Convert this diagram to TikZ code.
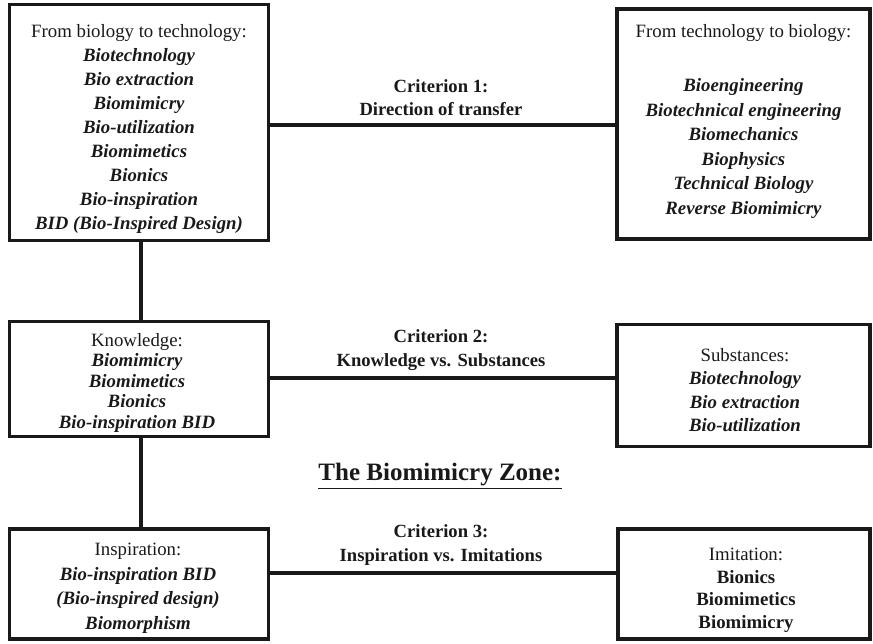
\documentclass[tikz,border=0pt]{standalone}
\usepackage{fontspec}
\setmainfont{Liberation Serif}
\newcommand{\bi}[1]{{\bfseries\itshape #1}}
\begin{document}
\begin{tikzpicture}[x=1pt,y=-1pt,
  box/.style={draw=black!90,line width=3.2pt,rectangle,inner sep=0pt},
  txt/.style={align=center,text=black!90,inner sep=0pt},
  conn/.style={draw=black!90,line width=3.2pt},
  crit/.style={align=center,font=\fontsize{18.6}{23.5}\selectfont\bfseries,text=black!90}]
\useasboundingbox (0,0) rectangle (873,643);
\node[box,minimum width=259pt,minimum height=236pt] (b1) at (139,122.5) {};
\node[box,minimum width=253pt,minimum height=230pt] (b2) at (743.5,124) {};
\node[box,minimum width=259pt,minimum height=115pt] (b3) at (139,379) {};
\node[box,minimum width=253pt,minimum height=122pt] (b4) at (743.5,385.5) {};
\node[box,minimum width=259pt,minimum height=110pt] (b5) at (139,584) {};
\node[box,minimum width=252pt,minimum height=110pt] (b6) at (744,584) {};
\node[txt,font=\fontsize{18.8}{24}\selectfont] (t1) at (139,128.5)
 {From biology to technology:\\ \bi{Biotechnology}\\ \bi{Bio extraction}\\ \bi{Biomimicry}\\ \bi{Bio-utilization}\\ \bi{Biomimetics}\\ \bi{Bionics}\\ \bi{Bio-inspiration}\\ \bi{BID (Bio-Inspired Design)}};
\node[txt,font=\fontsize{18.8}{24.5}\selectfont] (t2) at (743.5,121.5)
 {From technology to biology:\\[30pt] \bi{Bioengineering}\\ \bi{Biotechnical engineering}\\ \bi{Biomechanics}\\ \bi{Biophysics}\\ \bi{Technical Biology}\\ \bi{Reverse Biomimicry}};
\node[txt,font=\fontsize{18.8}{20.5}\selectfont] (t3) at (137,382.5)
 {Knowledge:\\ \bi{Biomimicry}\\ \bi{Biomimetics}\\ \bi{Bionics}\\ \bi{Bio-inspiration BID}};
\node[txt,font=\fontsize{18.8}{23.5}\selectfont] (t4) at (745,390)
 {Substances:\\ \bi{Biotechnology}\\ \bi{Bio extraction}\\ \bi{Bio-utilization}};
\node[txt,font=\fontsize{18.8}{24.5}\selectfont] (t5) at (138,588.5)
 {Inspiration:\\ \bi{Bio-inspiration BID}\\ \bi{(Bio-inspired design)}\\ \bi{Biomorphism}};
\node[txt,font=\fontsize{18.8}{22.5}\selectfont] (t6) at (746,590.5)
 {Imitation:\\ \textbf{Bionics}\\ \textbf{Biomimetics}\\ \textbf{Biomimicry}};
\coordinate (y1) at (0,125);
\coordinate (y2) at (0,378);
\coordinate (y3) at (0,573);
\coordinate (xv) at (141,0);
\draw[conn] (b1.east |- y1) -- (b2.west |- y1);
\draw[conn] (b3.east |- y2) -- (b4.west |- y2);
\draw[conn] (b5.east |- y3) -- (b6.west |- y3);
\draw[conn] (b1.south -| xv) -- (b3.north -| xv);
\draw[conn] (b3.south -| xv) -- (b5.north -| xv);
\node[crit] (c1) at (441,97.5) {Criterion 1:\\ Direction of transfer};
\node[crit] (c2) at (441,350) {Criterion 2:\\ Knowledge vs. Substances};
\node[crit] (c3) at (441,545) {Criterion 3:\\ Inspiration vs. Imitations};
\node[font=\fontsize{25}{30}\selectfont\bfseries,text=black!90] (zone) at (440,476) {\underline{The Biomimicry Zone:}};
\end{tikzpicture}
\end{document}
